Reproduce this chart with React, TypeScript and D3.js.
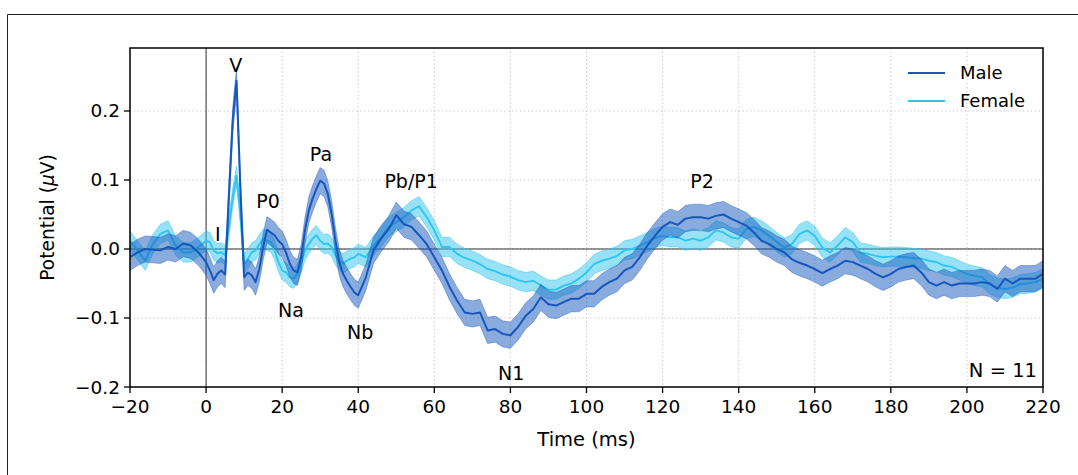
import React from "react";
import * as d3 from "d3";

// Sample grid (ms): 2 ms before stimulus, 1 ms in the early window, 2 ms afterwards
const times: number[] = [
  ...d3.range(-20, 0, 2),
  ...d3.range(0, 40, 1),
  ...d3.range(40, 221, 2),
];

const maleValues: number[] = [
  // -20 .. -2 (2 ms)
  -0.012, -0.005, 0.0, -0.001, -0.002, 0.003, 0.0, 0.008, 0.005, -0.005,
  // 0 .. 39 (1 ms)
  -0.019, -0.031, -0.045, -0.036, -0.031, -0.037, 0.077, 0.186, 0.244, 0.09,
  -0.041, -0.034, -0.038, -0.048, -0.029, 0.003, 0.028, 0.024, 0.02, 0.012,
  0.007, -0.005, -0.021, -0.031, -0.034, -0.012, 0.027, 0.056, 0.073, 0.087,
  0.099, 0.095, 0.08, 0.051, 0.012, -0.019, -0.036, -0.046, -0.055, -0.063,
  // 40 .. 60
  -0.067, -0.041, -0.002, 0.015, 0.029, 0.049, 0.036, 0.032, 0.02, 0.007, -0.012,
  // 62 .. 100
  -0.031, -0.055, -0.075, -0.092, -0.094, -0.092, -0.118, -0.116, -0.123, -0.125,
  -0.113, -0.097, -0.087, -0.07, -0.08, -0.082, -0.077, -0.072, -0.072, -0.065,
  // 102 .. 140
  -0.065, -0.055, -0.048, -0.043, -0.031, -0.026, -0.012, 0.005, 0.019, 0.032,
  0.039, 0.035, 0.044, 0.046, 0.046, 0.044, 0.048, 0.05, 0.044, 0.039,
  // 142 .. 180
  0.034, 0.024, 0.012, 0.007, 0.0, -0.005, -0.015, -0.02, -0.024, -0.029,
  -0.035, -0.029, -0.024, -0.017, -0.019, -0.024, -0.029, -0.036, -0.041, -0.036,
  // 182 .. 220
  -0.029, -0.026, -0.024, -0.034, -0.048, -0.053, -0.048, -0.053, -0.05, -0.05,
  -0.05, -0.048, -0.05, -0.058, -0.043, -0.05, -0.043, -0.043, -0.043, -0.036,
];

const femaleValues: number[] = [
  // -20 .. -2
  0.012, -0.002, -0.017, 0.007, 0.022, 0.027, 0.005, -0.005, -0.005, 0.003,
  // 0 .. 39
  0.012, 0.01, -0.002, -0.006, -0.005, -0.009, 0.032, 0.075, 0.106, 0.051,
  -0.021, -0.014, -0.005, -0.002, 0.007, 0.015, 0.012, 0.01, -0.002, -0.019,
  -0.031, -0.034, -0.041, -0.043, -0.036, -0.021, -0.002, 0.007, 0.015, 0.02,
  0.012, 0.007, 0.008, 0.003, -0.009, -0.017, -0.021, -0.017, -0.014, -0.012,
  // 40 .. 60
  -0.007, -0.012, 0.005, 0.017, 0.032, 0.039, 0.046, 0.056, 0.062, 0.046, 0.027,
  // 62 .. 100
  0.003, 0.003, -0.007, -0.013, -0.017, -0.022, -0.029, -0.032, -0.037, -0.04,
  -0.045, -0.048, -0.046, -0.053, -0.059, -0.059, -0.053, -0.05, -0.043, -0.034,
  // 102 .. 140
  -0.022, -0.017, -0.014, -0.01, -0.002, 0.0, 0.005, 0.01, 0.016, 0.019,
  0.017, 0.017, 0.012, 0.015, 0.012, 0.017, 0.027, 0.024, 0.017, 0.015,
  // 142 .. 180
  0.029, 0.032, 0.027, 0.019, 0.01, 0.002, 0.007, 0.022, 0.027, 0.019,
  0.002, -0.005, 0.005, 0.017, 0.01, -0.005, -0.007, -0.01, -0.012, -0.011,
  // 182 .. 220
  -0.011, -0.012, -0.013, -0.014, -0.017, -0.019, -0.024, -0.026, -0.031, -0.036,
  -0.039, -0.041, -0.051, -0.056, -0.058, -0.056, -0.051, -0.05, -0.048, -0.043,
];

// Standard error half-widths of the shaded bands
const maleSem = 0.019;
const femaleSem = 0.014;

const seriesNames = ["Male", "Female"];
const seriesColors = ["#1657bd", "#2fc6ef"];

const xTicks = [-20, 0, 20, 40, 60, 80, 100, 120, 140, 160, 180, 200, 220];
const yTicks = [-0.2, -0.1, 0.0, 0.1, 0.2];

const peakLabels: { name: string; t: number; v: number }[] = [
  { name: "V", t: 7.8, v: 0.256 },
  { name: "I", t: 3.1, v: 0.011 },
  { name: "P0", t: 16.3, v: 0.06 },
  { name: "Pa", t: 30.2, v: 0.128 },
  { name: "Na", t: 22.3, v: -0.099 },
  { name: "Nb", t: 40.5, v: -0.13 },
  { name: "Pb/P1", t: 53.9, v: 0.089 },
  { name: "N1", t: 80.2, v: -0.19 },
  { name: "P2", t: 130.4, v: 0.089 },
];

const FONT = "'DejaVu Sans', sans-serif";

export default function App() {
  const W = 1078;
  const H = 475;
  const left = 130, right = 1043, top = 48, bottom = 387;
  const x = d3.scaleLinear().domain([-20, 220]).range([left, right]);
  const y = d3.scaleLinear().domain([-0.2, 0.2913]).range([bottom, top]);

  const fmt = (v: number) => v.toFixed(1).replace("-", "\u2212");
  const fmtX = (v: number) => String(v).replace("-", "\u2212");

  const line = d3
    .line<[number, number]>()
    .x((d) => x(d[0]))
    .y((d) => y(d[1]));
  const area = d3
    .area<[number, number, number]>()
    .x((d) => x(d[0]))
    .y0((d) => y(d[1] - d[2]))
    .y1((d) => y(d[1] + d[2]));

  const male: [number, number][] = times.map((t, i) => [t, maleValues[i]]);
  const female: [number, number][] = times.map((t, i) => [t, femaleValues[i]]);
  const maleBand: [number, number, number][] = times.map((t, i) => [t, maleValues[i], maleSem]);
  const femaleBand: [number, number, number][] = times.map((t, i) => [t, femaleValues[i], femaleSem]);

  return (
    <svg
      width={W}
      height={H}
      style={{ position: "absolute", left: 0, top: 0, background: "#fff" }}
      fontFamily={FONT}
    >
      <rect x={0} y={0} width={W} height={H} fill="#fff" />
      {/* outer frame */}
      <line x1={7.5} y1={14.5} x2={W} y2={14.5} stroke="#222" strokeWidth={1} />
      <line x1={7.5} y1={14.5} x2={7.5} y2={H} stroke="#222" strokeWidth={1} />

      <defs>
        <clipPath id="plotclip">
          <rect x={left} y={top} width={right - left} height={bottom - top} />
        </clipPath>
      </defs>

      {/* grid */}
      {xTicks.map((t) => (
        <line
          key={"gx" + t}
          x1={x(t)}
          x2={x(t)}
          y1={top}
          y2={bottom}
          stroke="#c4c4c4"
          strokeWidth={1}
          strokeDasharray="1.3,2.6"
        />
      ))}
      {yTicks.map((v) => (
        <line
          key={"gy" + v}
          x1={left}
          x2={right}
          y1={y(v)}
          y2={y(v)}
          stroke="#c4c4c4"
          strokeWidth={1}
          strokeDasharray="1.3,2.6"
        />
      ))}

      <g clipPath="url(#plotclip)">
        {/* zero lines */}
        <line x1={left} x2={right} y1={y(0)} y2={y(0)} stroke="#333" strokeWidth={1} />
        <line x1={x(0)} x2={x(0)} y1={top} y2={bottom} stroke="#333" strokeWidth={1} />

        <path d={area(femaleBand) || ""} fill={seriesColors[1]} fillOpacity={0.5} stroke={seriesColors[1]} strokeOpacity={0.6} strokeWidth={0.8} />
        <path d={line(female) || ""} fill="none" stroke={seriesColors[1]} strokeWidth={1.9} strokeLinejoin="round" />
        <path d={area(maleBand) || ""} fill={seriesColors[0]} fillOpacity={0.5} stroke={seriesColors[0]} strokeOpacity={0.5} strokeWidth={0.8} />
        <path d={line(male) || ""} fill="none" stroke={seriesColors[0]} strokeWidth={2} strokeLinejoin="round" />
      </g>

      {/* axes frame */}
      <rect x={left} y={top} width={right - left} height={bottom - top} fill="none" stroke="#000" strokeWidth={1.5} />

      {/* x ticks */}
      {xTicks.map((t) => (
        <g key={"xt" + t}>
          <line x1={x(t)} x2={x(t)} y1={bottom} y2={bottom + 6} stroke="#000" strokeWidth={1.3} />
          <text x={x(t)} y={bottom + 26} textAnchor="middle" fontSize={18.5} fill="#000">
            {fmtX(t)}
          </text>
        </g>
      ))}
      {/* y ticks */}
      {yTicks.map((v) => (
        <g key={"yt" + v}>
          <line x1={left - 6} x2={left} y1={y(v)} y2={y(v)} stroke="#000" strokeWidth={1.3} />
          <text x={left - 10} y={y(v) + 6.5} textAnchor="end" fontSize={18.5} fill="#000">
            {fmt(v)}
          </text>
        </g>
      ))}

      {/* axis labels */}
      <text x={(left + right) / 2} y={446} textAnchor="middle" fontSize={19.5} fill="#000">
        Time (ms)
      </text>
      <text
        transform={`translate(54, ${(top + bottom) / 2}) rotate(-90)`}
        textAnchor="middle"
        fontSize={18.6}
        fill="#000"
      >
        Potential (<tspan fontStyle="italic">μ</tspan>V)
      </text>

      {/* peak annotations */}
      {peakLabels.map((p) => (
        <text key={p.name} x={x(p.t)} y={y(p.v)} textAnchor="middle" fontSize={19} fill="#000">
          {p.name}
        </text>
      ))}

      {/* N label */}
      <text x={1037} y={377} textAnchor="end" fontSize={19.5} fill="#000">
        N = 11
      </text>

      {/* legend */}
      {seriesNames.map((n, i) => (
        <g key={n}>
          <line x1={908} x2={945} y1={73 + i * 28} y2={73 + i * 28} stroke={seriesColors[i]} strokeWidth={2} />
          <text x={960} y={79 + i * 28} fontSize={18} fill="#000">
            {n}
          </text>
        </g>
      ))}
    </svg>
  );
}
